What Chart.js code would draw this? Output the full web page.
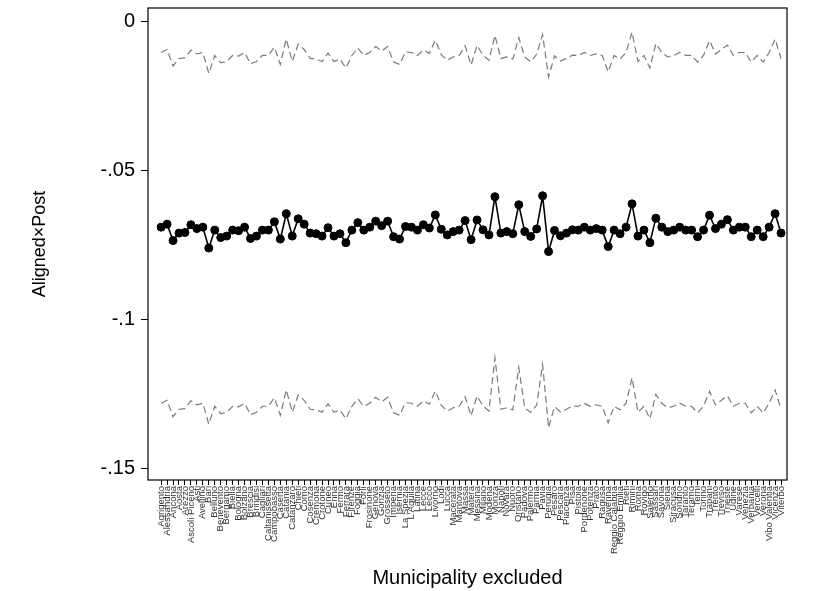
<!DOCTYPE html>
<html>
<head>
<meta charset="utf-8">
<script src="https://cdn.jsdelivr.net/npm/chart.js@4"></script>
<style>
  html, body { margin: 0; padding: 0; background: #fff; }
  #wrap { width: 816px; height: 591px; }
</style>
</head>
<body>
<div id="wrap"><canvas id="coefChart" width="816" height="591"></canvas></div>
<script>
// ---- DATA ----
const municipalities = [
  "Agrigento", "Alessandria", "Ancona", "Aosta", "Arezzo", "Ascoli Piceno", "Asti", "Avellino",
  "Bari", "Belluno", "Benevento", "Bergamo", "Biella", "Bologna", "Bolzano", "Brescia", "Brindisi",
  "Cagliari", "Caltanissetta", "Campobasso", "Caserta", "Catania", "Catanzaro", "Chieti", "Como",
  "Cosenza", "Cremona", "Crotone", "Cuneo", "Enna", "Fermo", "Ferrara", "Firenze", "Foggia", "Forlì",
  "Frosinone", "Genova", "Gorizia", "Grosseto", "Imperia", "Isernia", "La Spezia", "L'Aquila", "Latina",
  "Lecce", "Lecco", "Livorno", "Lodi", "Lucca", "Macerata", "Mantova", "Massa", "Matera", "Messina",
  "Milano", "Modena", "Monza", "Napoli", "Novara", "Nuoro", "Oristano", "Padova", "Palermo", "Parma",
  "Pavia", "Perugia", "Pesaro", "Pescara", "Piacenza", "Pisa", "Pistoia", "Pordenone", "Potenza",
  "Prato", "Ragusa", "Ravenna", "Reggio Calabria", "Reggio Emilia", "Rieti", "Rimini", "Roma", "Rovigo",
  "Salerno", "Sassari", "Savona", "Siena", "Siracusa", "Sondrio", "Taranto", "Teramo", "Terni", "Torino",
  "Trapani", "Trento", "Treviso", "Trieste", "Udine", "Varese", "Venezia", "Verbania", "Vercelli",
  "Verona", "Vibo Valentia", "Vicenza", "Viterbo"
];

// point estimate after dropping each municipality
const estimate = [
  -0.0690, -0.0680, -0.0735, -0.0710, -0.0708, -0.0682, -0.0695, -0.0690, -0.0760, -0.0700,
  -0.0725, -0.0720, -0.0700, -0.0702, -0.0690, -0.0728, -0.0720, -0.0700, -0.0700, -0.0672,
  -0.0730, -0.0645, -0.0720, -0.0662, -0.0680, -0.0710, -0.0712, -0.0720, -0.0692, -0.0720,
  -0.0712, -0.0742, -0.0700, -0.0675, -0.0700, -0.0690, -0.0670, -0.0685, -0.0670, -0.0722,
  -0.0730, -0.0688, -0.0690, -0.0700, -0.0682, -0.0693, -0.0649, -0.0697, -0.0716, -0.0705,
  -0.0700, -0.0668, -0.0732, -0.0666, -0.0699, -0.0716, -0.0588, -0.0710, -0.0705, -0.0712,
  -0.0615, -0.0705, -0.0721, -0.0696, -0.0585, -0.0772, -0.0701, -0.0719, -0.0710, -0.0699,
  -0.0700, -0.0690, -0.0700, -0.0695, -0.0700, -0.0755, -0.0700, -0.0712, -0.0690, -0.0612,
  -0.0720, -0.0700, -0.0742, -0.0660, -0.0690, -0.0705, -0.0700, -0.0690, -0.0700, -0.0700,
  -0.0722, -0.0700, -0.0650, -0.0695, -0.0680, -0.0665, -0.0700, -0.0690, -0.0690, -0.0722,
  -0.0700, -0.0722, -0.0690, -0.0645, -0.0710
];

// 95% interval bounds
const ciUpper = [
  -0.0105, -0.0095, -0.0150, -0.0125, -0.0123, -0.0097, -0.0110, -0.0105, -0.0175, -0.0115,
  -0.0140, -0.0135, -0.0115, -0.0117, -0.0105, -0.0143, -0.0135, -0.0115, -0.0115, -0.0087,
  -0.0145, -0.0060, -0.0135, -0.0077, -0.0095, -0.0125, -0.0127, -0.0135, -0.0107, -0.0135,
  -0.0127, -0.0157, -0.0115, -0.0090, -0.0115, -0.0105, -0.0085, -0.0100, -0.0085, -0.0137,
  -0.0145, -0.0103, -0.0105, -0.0115, -0.0097, -0.0108, -0.0064, -0.0112, -0.0131, -0.0120,
  -0.0115, -0.0083, -0.0147, -0.0081, -0.0114, -0.0131, -0.0048, -0.0125, -0.0120, -0.0127,
  -0.0055, -0.0120, -0.0136, -0.0111, -0.0045, -0.0187, -0.0116, -0.0134, -0.0125, -0.0114,
  -0.0115, -0.0105, -0.0115, -0.0110, -0.0115, -0.0170, -0.0115, -0.0127, -0.0105, -0.0037,
  -0.0135, -0.0115, -0.0157, -0.0075, -0.0105, -0.0120, -0.0115, -0.0105, -0.0115, -0.0115,
  -0.0137, -0.0115, -0.0065, -0.0110, -0.0095, -0.0080, -0.0115, -0.0105, -0.0105, -0.0137,
  -0.0115, -0.0137, -0.0105, -0.0060, -0.0125
];

const ciLower = [
  -0.1280, -0.1270, -0.1325, -0.1300, -0.1298, -0.1272, -0.1285, -0.1280, -0.1350, -0.1290,
  -0.1315, -0.1310, -0.1290, -0.1292, -0.1280, -0.1318, -0.1310, -0.1290, -0.1290, -0.1262,
  -0.1320, -0.1235, -0.1310, -0.1252, -0.1270, -0.1300, -0.1302, -0.1310, -0.1282, -0.1310,
  -0.1302, -0.1332, -0.1290, -0.1265, -0.1290, -0.1280, -0.1260, -0.1275, -0.1260, -0.1312,
  -0.1320, -0.1278, -0.1280, -0.1290, -0.1272, -0.1283, -0.1239, -0.1287, -0.1306, -0.1295,
  -0.1290, -0.1258, -0.1322, -0.1256, -0.1289, -0.1306, -0.1128, -0.1300, -0.1295, -0.1302,
  -0.1160, -0.1295, -0.1311, -0.1286, -0.1150, -0.1362, -0.1291, -0.1309, -0.1300, -0.1289,
  -0.1290, -0.1280, -0.1290, -0.1285, -0.1290, -0.1345, -0.1290, -0.1302, -0.1280, -0.1195,
  -0.1310, -0.1290, -0.1332, -0.1250, -0.1280, -0.1295, -0.1290, -0.1280, -0.1290, -0.1290,
  -0.1312, -0.1290, -0.1240, -0.1285, -0.1270, -0.1255, -0.1290, -0.1280, -0.1280, -0.1312,
  -0.1290, -0.1312, -0.1280, -0.1235, -0.1300
];

const yTickValues = [0, -0.05, -0.1, -0.15];
const yTickLabels = ["0", "-.05", "-.1", "-.15"];

const xTitle = "Municipality excluded";
const yTitle = "Aligned\u00d7Post";

// ---- HELPERS ----
function toPoints(values) {
  return values.map((v, i) => ({ x: i, y: v }));
}

// box around the plot region plus the two axis titles
const framePlugin = {
  id: "frame",
  beforeDatasetsDraw(chart) {
    const a = chart.chartArea;
    const ctx = chart.ctx;
    ctx.save();
    ctx.strokeStyle = "#000";
    ctx.lineWidth = 1.2;
    ctx.strokeRect(a.left, a.top, a.right - a.left, a.bottom - a.top);
    ctx.restore();
  },
  afterDraw(chart) {
    const a = chart.chartArea;
    const ctx = chart.ctx;
    ctx.save();
    ctx.fillStyle = "#000";
    ctx.textAlign = "center";
    ctx.textBaseline = "middle";
    ctx.font = "20px 'Liberation Sans', Arial, sans-serif";
    ctx.fillText(xTitle, (a.left + a.right) / 2, 578);
    ctx.font = "18px 'Liberation Sans', Arial, sans-serif";
    ctx.translate(40, (a.top + a.bottom) / 2);
    ctx.rotate(-Math.PI / 2);
    ctx.fillText(yTitle, 0, 0);
    ctx.restore();
  }
};

// ---- CHART ----
new Chart(document.getElementById("coefChart"), {
  type: "line",
  data: {
    datasets: [
      {
        label: "upper",
        data: toPoints(ciUpper),
        borderColor: "#7a7a7a",
        borderWidth: 1.2,
        borderDash: [7, 4],
        pointRadius: 0,
        fill: false,
        tension: 0
      },
      {
        label: "lower",
        data: toPoints(ciLower),
        borderColor: "#7a7a7a",
        borderWidth: 1.2,
        borderDash: [7, 4],
        pointRadius: 0,
        fill: false,
        tension: 0
      },
      {
        label: "estimate",
        data: toPoints(estimate),
        borderColor: "#000",
        borderWidth: 1.6,
        pointRadius: 4,
        pointBackgroundColor: "#000",
        pointBorderColor: "#000",
        pointBorderWidth: 1,
        fill: false,
        tension: 0
      }
    ]
  },
  options: {
    responsive: false,
    animation: false,
    devicePixelRatio: 1,
    layout: { padding: { left: 0, right: 29, top: 8, bottom: 0 } },
    plugins: {
      legend: { display: false },
      tooltip: { enabled: false }
    },
    scales: {
      x: {
        type: "linear",
        min: -2.2,
        max: 105.0,
        afterFit(scale) {
          scale.height = 111;
          scale.paddingLeft = 0;
          scale.paddingRight = 0;
        },
        afterBuildTicks(scale) {
          scale.ticks = municipalities.map((_, i) => ({ value: i }));
        },
        grid: {
          drawOnChartArea: false,
          drawTicks: true,
          tickLength: 5,
          color: "#000",
          lineWidth: 1
        },
        border: { display: false },
        ticks: {
          autoSkip: false,
          minRotation: 90,
          maxRotation: 90,
          padding: 1,
          color: "#333",
          font: { family: "'Liberation Sans', Arial, sans-serif", size: 9.5 },
          callback: (value) => municipalities[value]
        }
      },
      y: {
        type: "linear",
        min: -0.1537,
        max: 0.0044,
        afterFit(scale) {
          scale.width = 148;
          scale.paddingTop = 0;
          scale.paddingBottom = 0;
        },
        afterBuildTicks(scale) {
          scale.ticks = yTickValues.map(v => ({ value: v }));
        },
        grid: {
          drawOnChartArea: false,
          drawTicks: true,
          tickLength: 7,
          color: "#000",
          lineWidth: 1
        },
        border: { display: false },
        ticks: {
          padding: 6,
          color: "#000",
          font: { family: "'Liberation Sans', Arial, sans-serif", size: 20 },
          callback: (value, index) => yTickLabels[index]
        }
      }
    }
  },
  plugins: [framePlugin]
});
</script>
</body>
</html>
